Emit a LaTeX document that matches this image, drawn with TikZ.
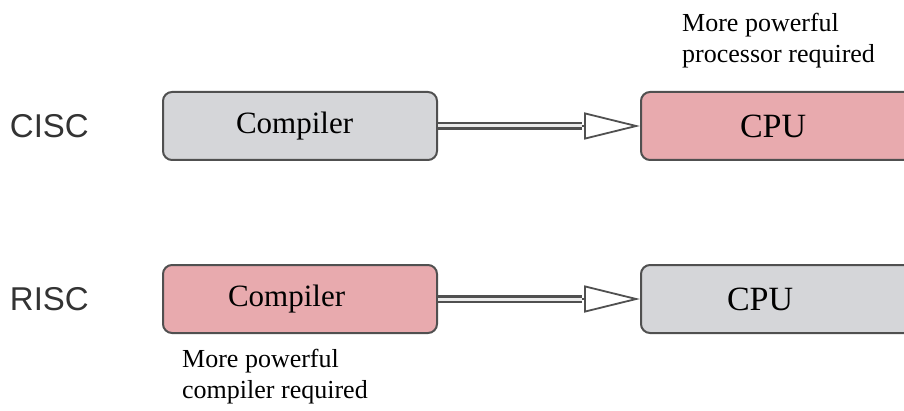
\documentclass[tikz,border=0pt]{standalone}
\usepackage{fontspec}
\setmainfont{Liberation Serif}
\newfontfamily\archfont{Liberation Sans}
\usetikzlibrary{positioning, arrows.meta, calc}
\definecolor{boxgray}{HTML}{D5D6D9}
\definecolor{boxpink}{HTML}{E8AAAE}
\definecolor{edgegray}{HTML}{505050}

\begin{document}
\begin{tikzpicture}[
    x=1pt, y=1pt,
    box/.style={draw=edgegray, line width=2pt, rounded corners=9pt, minimum height=68pt, inner ysep=0pt, align=left, font=\fontsize{31}{36}\selectfont},
    gray box/.style={box, fill=boxgray},
    pink box/.style={box, fill=boxpink},
    cpu/.style={font=\fontsize{34}{40}\selectfont},
    arch/.style={inner sep=0pt, text=black!80, font=\archfont\fontsize{33}{38}\selectfont},
    note/.style={inner sep=0pt, align=left, font=\fontsize{26}{31}\selectfont},
    shaft/.style={draw=edgegray, line width=2.2pt, double=white!92!black, double distance=3pt},
    head/.style={draw=edgegray, line width=1.8pt, -{Triangle[open, length=56pt, width=27pt]}},
]
\useasboundingbox (0,0) rectangle (904,410);
\clip (0,0) rectangle (904,410);

% CISC row
\node[gray box, inner xsep=73pt, text width=128pt] (cmp1) at (300,284) {Compiler};
\node[pink box, cpu, inner xsep=99pt, text width=80pt, right=202pt of cmp1] (cpu1) {CPU};
\node[arch, left=73pt of cmp1] (cisc) {CISC};
\node[note, above right=23pt and 42pt of cpu1.north west] (need1) {More powerful\\processor required};

% RISC row
\node[pink box, inner xsep=65pt, text width=144pt, below=103pt of cmp1] (cmp2) {Compiler};
\node[gray box, cpu, inner xsep=86pt, text width=110pt, right=202pt of cmp2] (cpu2) {CPU};
\node[arch, left=73pt of cmp2] (risc) {RISC};
\node[note, below right=15pt and 20pt of cmp2.south west] (need2) {More powerful\\compiler required};

% hollow arrows
\coordinate[left=58pt of cpu1.west] (base1);
\coordinate[left=58pt of cpu2.west] (base2);
\draw[shaft] (cmp1.east) -- (base1);
\draw[head] (base1) -- (cpu1.west);
\draw[shaft] (cmp2.east) -- (base2);
\draw[head] (base2) -- (cpu2.west);
\end{tikzpicture}
\end{document}
